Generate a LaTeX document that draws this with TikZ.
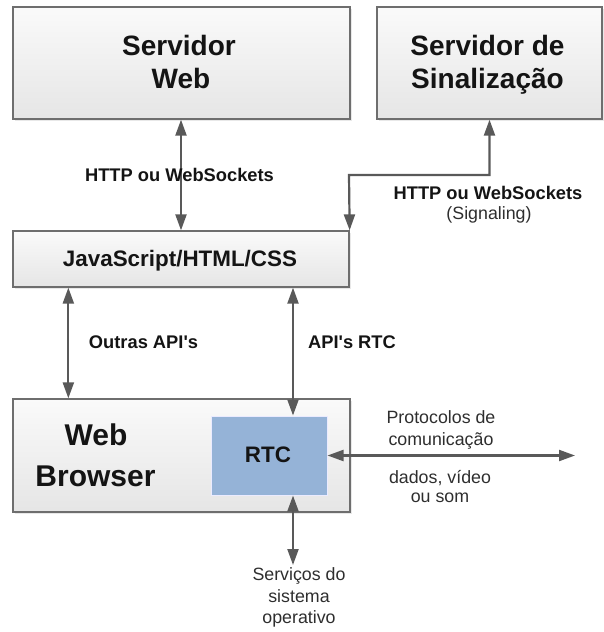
\documentclass[tikz,border=0pt]{standalone}
\usepackage{fontspec}
\newfontfamily\arial{Liberation Sans}
\usetikzlibrary{arrows.meta,shadows}
\definecolor{boxline}{HTML}{6E6E6E}
\definecolor{arr}{HTML}{595959}
\definecolor{rtcfill}{HTML}{95B3D7}
\definecolor{btxt}{HTML}{141414}
\definecolor{rtxt}{HTML}{2E2E2E}
\begin{document}
\begin{tikzpicture}[x=1pt,y=-1pt,
  box/.style={draw=boxline,line width=1.3pt,top color=white!98!black,bottom color=white!90!black,
    inner sep=0pt,drop shadow={opacity=0.18,shadow xshift=1.5pt,shadow yshift=-1.5pt}},
  rtcbox/.style={draw=white!92!blue,line width=1pt,fill=rtcfill,inner sep=0pt,
    drop shadow={opacity=0.18,shadow xshift=1.2pt,shadow yshift=-1.2pt}},
  conn/.style={draw=arr,line width=2.2pt,{Triangle[length=16pt,width=11pt]}-{Triangle[length=16pt,width=11pt]}},
  title/.style={anchor=base,inner sep=0pt,text=btxt,font=\arial\bfseries\fontsize{28}{33}\selectfont},
  bigtitle/.style={anchor=base,inner sep=0pt,text=btxt,font=\arial\bfseries\fontsize{30}{36}\selectfont},
  boldlbl/.style={anchor=base,inner sep=0pt,text=btxt,font=\arial\bfseries\fontsize{18.3}{22}\selectfont},
  mid/.style={anchor=base,inner sep=0pt,text=btxt,font=\arial\bfseries\fontsize{22.4}{26}\selectfont},
  lbl/.style={anchor=base,inner sep=0pt,text=rtxt,font=\arial\fontsize{17.8}{21}\selectfont}
]
\useasboundingbox (0,0) rectangle (603,632);

% boxes
\node[box,minimum width=337pt,minimum height=112pt] (sw) at (181.5,63) {};
\node[box,minimum width=225pt,minimum height=112pt] (sig) at (489.5,63) {};
\node[box,minimum width=336pt,minimum height=56pt] (js) at (181,259) {};
\node[box,minimum width=337pt,minimum height=113pt] (br) at (181.5,455.5) {};
\node[rtcbox,minimum width=116pt,minimum height=79pt] (rtc) at (269,455.5) {};

% box texts
\node[title] (t1) at (179,55) {Servidor};
\node[title] (t2) at (181,88) {Web};
\node[title] (t3) at (487.5,55) {Servidor de};
\node[title] (t4) at (487.5,88) {Sinalização};
\node[mid] (t5) at (180,266) {JavaScript/HTML/CSS};
\node[bigtitle] (t6) at (96,445) {Web};
\node[bigtitle] (t7) at (95.5,486) {Browser};
\node[mid] (t8) at (268,462) {RTC};

% helper coordinates
\coordinate (bend) at (349,175);
\coordinate (apix) at (293,0);
\coordinate (os) at (293,565);
\coordinate (net) at (575,455.5);

% connectors
\draw[conn] (sw.south -| t2) -- (js.north -| t2);
\draw[conn] (sig.south) |- (bend) -- (js.north east);
\draw[conn] ([xshift=56pt]js.south west) -- ([xshift=56pt]br.north west);
\draw[conn] (js.south -| apix) -- (rtc.north -| apix);
\draw[conn] (rtc.south -| apix) -- (os);
\draw[conn] (rtc.east) -- (net);

% labels
\node[boldlbl] (l1) at (179.5,181) {HTTP ou WebSockets};
\node[boldlbl] (l2) at (488,199) {HTTP ou WebSockets};
\node[lbl] (l3) at (489,219) {(Signaling)};
\node[boldlbl] (l4) at (143.5,348) {Outras API's};
\node[boldlbl] (l5) at (352,348) {API's RTC};
\node[lbl] (l6) at (441,423) {Protocolos de};
\node[lbl] (l7) at (441,445) {comunicação};
\node[lbl] (l8) at (440,483) {dados, vídeo};
\node[lbl] (l9) at (440,502) {ou som};
\node[lbl] (l10) at (299,580) {Serviços do};
\node[lbl] (l11) at (299,602) {sistema};
\node[lbl] (l12) at (299,623) {operativo};
\end{tikzpicture}
\end{document}
